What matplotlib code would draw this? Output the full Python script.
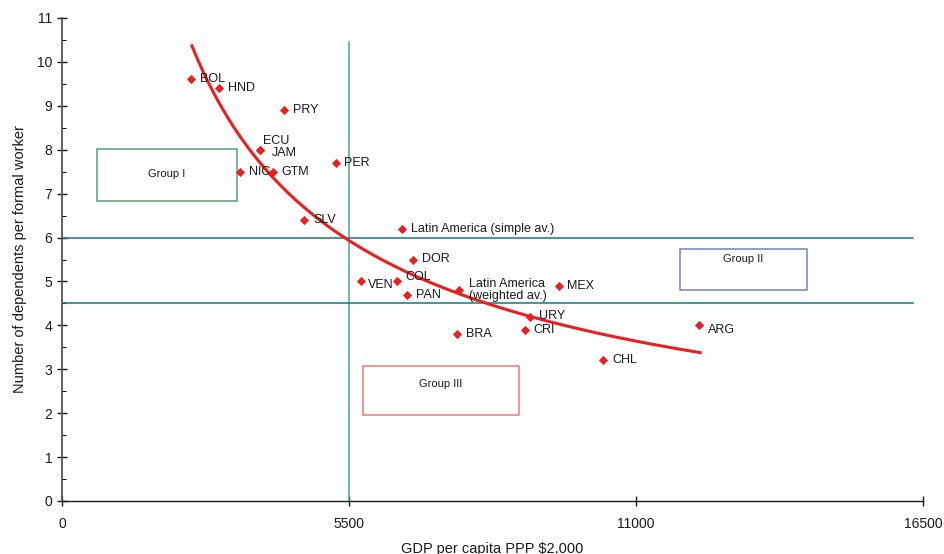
import numpy as np
import matplotlib
matplotlib.use("Agg")
import matplotlib.pyplot as plt
from matplotlib.patches import Rectangle

plt.rcParams['font.family'] = ['Liberation Sans', 'DejaVu Sans']

# GDP per capita (PPP, 2000 $) and dependents per formal worker
countries = ["BOL", "HND", "PRY", "ECU", "JAM", "NIC", "GTM", "PER", "SLV",
             "DOR", "VEN", "COL", "PAN", "MEX", "URY", "CRI", "BRA", "CHL", "ARG"]
gdp = [2470, 3010, 4250, 3790, 3800, 3410, 4040, 5250, 4640,
       6730, 5730, 6420, 6610, 9520, 8970, 8870, 7570, 10370, 12210]
dependents = [9.6, 9.4, 8.9, 8.0, 8.0, 7.5, 7.5, 7.7, 6.4,
              5.5, 5.0, 5.0, 4.7, 4.9, 4.2, 3.9, 3.8, 3.2, 4.0]
# label offsets in pixels (dx right, dy up)
label_offsets = [(9, 0), (9, 0), (9, 0), (3, 9), (12, -3), (9, 0), (9, 0), (8, 0), (9, 0),
                 (9, 0), (7, -4), (8, 4), (9, 0), (8, 0), (9, 1), (9, 0), (9, 0), (9, 0), (9, -5)]

averages = ["Latin America (simple av.)", "Latin America\n(weighted av.)"]
avg_gdp = [6520, 7610]
avg_dep = [6.2, 4.8]

# power trend: dependents = a * gdp^b, fitted on the country points
b, log_a = np.polyfit(np.log(gdp), np.log(dependents), 1)
trend_x = np.linspace(2490, 12230, 200)
trend_y = np.exp(log_a) * trend_x ** b

gdp_threshold = 5500
dep_thresholds = [6.0, 4.5]

groups = ["Group I", "Group II", "Group III"]
group_boxes = [(670, 6.83, 2685, 1.19), (11840, 4.81, 2435, 0.93), (5770, 1.96, 2990, 1.12)]
group_colors = ["#5a9e6e", "#6f84c0", "#e87878"]
group_text_pos = [(2010, 7.45), (13060, 5.52), (7260, 2.66)]

fig = plt.figure(figsize=(9.45, 5.54), dpi=100)
ax = fig.add_axes([62 / 945, 1 - 501 / 554, (923 - 62) / 945, (501 - 18) / 554])

ax.plot(trend_x, trend_y, color="#e8201f", lw=2.2, zorder=3)
ax.plot([gdp_threshold, gdp_threshold], [0, 10.46], color="#4e9e9e", lw=1.1, zorder=2)
for yv in dep_thresholds:
    ax.plot([0, 16300], [yv, yv], color="#127a74", lw=1.1, zorder=2)

ax.scatter(gdp, dependents, marker="D", s=22, color="#e8201f", zorder=4, linewidths=0)
ax.scatter(avg_gdp, avg_dep, marker="D", s=22, color="#e8201f", zorder=4, linewidths=0)

for name, x, y, (dx, dy) in zip(countries, gdp, dependents, label_offsets):
    ax.annotate(name, (x, y), xytext=(dx, dy), textcoords="offset pixels",
                ha="left", va="center", fontsize=9, color="#1a1a1a", zorder=5)
ax.annotate(averages[0], (avg_gdp[0], avg_dep[0]), xytext=(9, 0), textcoords="offset pixels",
            ha="left", va="center", fontsize=9, color="#1a1a1a", zorder=5)
ax.annotate(averages[1], (avg_gdp[1], avg_dep[1]), xytext=(10, 0), textcoords="offset pixels",
            ha="left", va="center", fontsize=9, color="#1a1a1a", zorder=5, linespacing=1.05)

for name, (x0, y0, w, h), col, (tx, ty) in zip(groups, group_boxes, group_colors, group_text_pos):
    ax.add_patch(Rectangle((x0, y0), w, h, fill=False, edgecolor=col, lw=1.1, zorder=2))
    ax.text(tx, ty, name, ha="center", va="center", fontsize=8, color="#1a1a1a")

ax.set_xlim(0, 16500)
ax.set_ylim(0, 11)
ax.set_xticks([0, 5500, 11000, 16500])
ax.set_yticks(range(0, 12))
ax.set_yticks(np.arange(0.5, 11, 1.0), minor=True)
ax.tick_params(axis="both", which="major", direction="inout", length=7, width=1,
               labelsize=10, colors="#1a1a1a")
ax.tick_params(axis="y", which="minor", direction="in", length=3, width=0.8)
ax.tick_params(axis="x", which="major", pad=8)
for side in ("top", "right"):
    ax.spines[side].set_visible(False)
ax.spines["left"].set_color("#555555")
ax.spines["left"].set_linewidth(1.3)
ax.spines["bottom"].set_color("#1a1a1a")
ax.spines["bottom"].set_linewidth(1.0)

ax.set_xlabel("GDP per capita PPP $2,000", fontsize=10.5, labelpad=8, color="#1a1a1a")
ax.set_ylabel("Number of dependents per formal worker", fontsize=10.5, labelpad=7, color="#1a1a1a")

fig.savefig("out.png", dpi=100)
